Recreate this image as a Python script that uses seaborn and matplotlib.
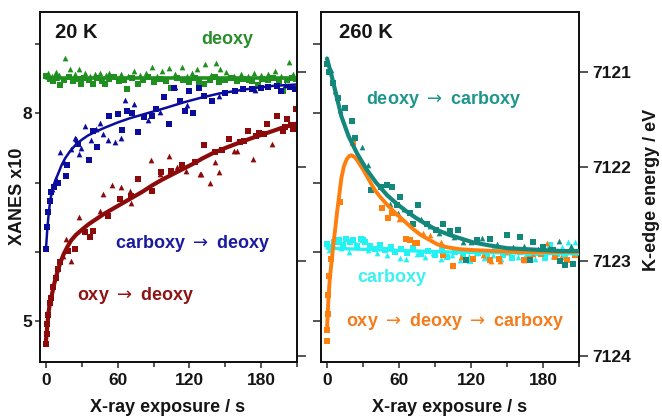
import matplotlib
matplotlib.use("Agg")
import matplotlib.pyplot as plt
import seaborn as sns

# ---- 20 K panel (XANES x10) ----
green_sq_t = [0, 3, 6, 9, 12, 15, 19, 23, 27, 29, 32, 36, 39, 43, 47, 49, 53, 57, 61, 65, 68, 72, 77, 81, 85,
              90, 95, 100, 105, 110, 115, 120, 125, 128, 132, 137, 141, 145, 150, 155, 160, 165, 170, 172, 177,
              181, 186, 190, 195, 198, 202, 206, 209]
green_sq_v = [8.55, 8.50, 8.47, 8.52, 8.41, 8.49, 8.53, 8.47, 8.50, 8.43, 8.52, 8.48, 8.43, 8.51, 8.47, 8.43, 8.50,
              8.53, 8.47, 8.49, 8.36, 8.51, 8.42, 8.48, 8.53, 8.46, 8.50, 8.47, 8.37, 8.51, 8.49, 8.46, 8.52, 8.46,
              8.43, 8.49, 8.53, 8.45, 8.48, 8.51, 8.47, 8.50, 8.48, 8.47, 8.41, 8.50, 8.48, 8.52, 8.47, 8.33, 8.49,
              8.52, 8.50]
green_tri_t = [2, 5, 8, 11, 16, 20, 24, 28, 33, 37, 41, 45, 50, 53, 58, 63, 69, 74, 79, 84, 89, 93, 97, 103, 108,
               114, 118, 122, 126, 133, 138, 142, 146, 151, 157, 163, 169, 174, 180, 186, 192, 197, 203, 207]
green_tri_v = [8.58, 8.54, 8.60, 8.56, 8.80, 8.65, 8.57, 8.65, 8.59, 8.55, 8.57, 8.59, 8.56, 8.59, 8.54, 8.57, 8.55,
               8.61, 8.56, 8.58, 8.67, 8.55, 8.62, 8.66, 8.57, 8.67, 8.55, 8.58, 8.65, 8.71, 8.56, 8.73, 8.64, 8.60,
               8.55, 8.57, 8.54, 8.59, 8.56, 8.57, 8.62, 8.55, 8.74, 8.57]
green_fit_t = [0, 210]
green_fit_v = [8.52, 8.52]

blue_sq_t = [0, 1, 2, 3, 4.5, 7, 10, 17, 18, 27, 36, 39, 43, 53, 60, 64, 68, 72, 77, 82, 89, 92, 99, 103, 107,
             112, 116, 120, 123, 128, 132, 139, 150, 158, 165, 172, 180, 186, 193, 197, 204, 208]
blue_sq_v = [6.04, 6.35, 6.58, 6.73, 6.86, 6.93, 7.00, 7.09, 7.26, 7.56, 7.33, 7.75, 7.51, 7.97, 7.99, 7.76, 8.03,
             8.00, 7.73, 7.95, 7.97, 8.07, 8.24, 7.85, 8.37, 8.18, 8.03, 8.32, 8.00, 8.37, 8.25, 8.18, 8.30, 8.33,
             8.35, 8.36, 8.37, 8.39, 8.40, 8.33, 8.38, 8.36]
blue_tri_t = [5, 8, 12, 15, 21, 24, 25, 28, 29, 33, 38, 42, 45, 48, 52, 58, 63, 66, 74, 85, 95, 108, 118, 145,
              175, 200]
blue_tri_v = [6.90, 7.05, 7.44, 7.30, 7.48, 7.64, 7.63, 7.42, 7.50, 7.82, 7.62, 7.78, 7.86, 7.70, 7.61, 7.58, 7.65,
              8.20, 8.14, 7.90, 8.02, 8.38, 8.12, 8.26, 8.34, 8.41]
blue_fit_t = [0, 1, 2, 3, 4, 6, 8, 10, 13, 16, 20, 25, 30, 35, 42, 50, 60, 70, 80, 90, 100, 115, 130, 145, 160,
              175, 190, 210]
blue_fit_v = [6.04, 6.30, 6.50, 6.66, 6.78, 6.94, 7.04, 7.12, 7.25, 7.35, 7.45, 7.55, 7.62, 7.68, 7.74, 7.80, 7.87,
              7.93, 7.98, 8.03, 8.08, 8.16, 8.23, 8.29, 8.33, 8.37, 8.40, 8.42]

red_sq_t = [0, 0.5, 1, 2, 3, 4, 6, 8, 10, 12, 18.5, 24, 32.5, 37, 39, 52, 62, 71, 77, 89, 96, 105, 114, 125, 132,
            141, 147, 153, 162, 166, 169, 176, 178, 182, 185, 193, 198, 200, 202, 205, 207, 209]
red_sq_v = [4.66, 4.80, 4.95, 5.08, 5.25, 5.33, 5.48, 5.62, 5.75, 5.85, 6.01, 6.04, 6.28, 6.21, 6.30, 6.52, 6.76,
            6.81, 7.05, 6.88, 7.15, 7.17, 7.25, 7.29, 7.54, 7.44, 7.47, 7.63, 7.58, 7.60, 7.75, 7.67, 7.71, 7.70,
            7.85, 7.97, 7.75, 7.80, 7.92, 7.83, 7.78, 8.07]
red_tri_t = [14, 16.7, 21, 28, 45, 48, 55.5, 63, 70, 71, 88, 95, 103, 110, 117, 129, 130, 137, 141, 145, 157.5,
             160, 173, 189]
red_tri_v = [5.94, 6.18, 5.87, 6.50, 6.59, 6.84, 6.96, 6.93, 6.88, 6.71, 7.32, 7.13, 7.39, 7.22, 7.17, 7.12, 7.13,
             7.00, 7.29, 7.15, 7.46, 7.46, 7.34, 7.56]
red_fit_t = [0, 1, 2, 3, 5, 7, 9, 12, 15, 18, 21, 25, 31, 36, 42, 49, 56, 64, 73, 81, 89, 97, 106, 115, 123, 131,
             139, 150, 159, 170, 180, 187, 197, 209]
red_fit_v = [4.71, 4.90, 5.10, 5.22, 5.38, 5.54, 5.67, 5.84, 5.97, 6.07, 6.16, 6.24, 6.33, 6.40, 6.47, 6.55, 6.62,
             6.70, 6.79, 6.87, 6.96, 7.04, 7.12, 7.20, 7.27, 7.35, 7.42, 7.50, 7.56, 7.63, 7.69, 7.73, 7.79, 7.85]

# ---- 260 K panel (K-edge energy / eV) ----
teal_sq_t = [0, 2, 5, 9, 15, 20.5, 23, 37, 45, 50, 54, 58, 61, 69, 72, 76, 83, 91, 97, 102.5, 109, 116, 125, 136,
             150, 161, 169, 172, 180, 188, 194, 198, 205]
teal_sq_v = [7120.92, 7121.00, 7121.12, 7121.28, 7121.38, 7121.52, 7121.70, 7122.25, 7122.21, 7122.19, 7122.21,
             7122.40, 7122.32, 7122.49, 7122.61, 7122.40, 7122.60, 7122.67, 7122.61, 7122.68, 7122.67, 7122.98,
             7122.77, 7122.76, 7122.72, 7122.74, 7122.98, 7122.79, 7122.85, 7122.88, 7123.00, 7123.04, 7123.03]
teal_tri_t = [3, 7, 11, 29, 34, 52.5, 59, 64, 78, 86, 93, 106, 113, 120, 129, 142, 155, 164, 176, 185, 193, 203]
teal_tri_v = [7120.98, 7121.20, 7121.40, 7121.79, 7121.98, 7122.39, 7122.49, 7122.45, 7122.55, 7122.63, 7122.70,
              7122.74, 7122.79, 7122.80, 7122.75, 7122.82, 7122.85, 7122.84, 7122.87, 7122.86, 7122.78, 7122.84]
teal_fit_t = [0, 4, 8, 12, 18, 25, 33, 41, 50, 58, 66, 74, 83, 92, 102, 112, 122, 135, 150, 165, 180, 195, 210]
teal_fit_v = [7120.86, 7121.05, 7121.26, 7121.47, 7121.68, 7121.86, 7122.03, 7122.17, 7122.30, 7122.39, 7122.47,
              7122.54, 7122.61, 7122.67, 7122.72, 7122.76, 7122.80, 7122.83, 7122.86, 7122.87, 7122.88, 7122.89,
              7122.89]

orange_sq_t = [0, 0, 0.5, 1, 2, 3, 11, 22, 45.5, 51, 54, 66, 69, 73, 75, 97, 105, 122, 136, 143, 164, 169, 178,
               190, 200, 207]
orange_sq_v = [7123.72, 7123.84, 7123.55, 7123.35, 7123.15, 7122.97, 7122.37, 7121.75, 7122.44, 7122.54, 7122.49,
               7122.76, 7122.77, 7122.81, 7122.81, 7122.93, 7123.05, 7122.97, 7122.98, 7122.97, 7122.98, 7122.97,
               7122.92, 7122.95, 7122.98, 7122.93]
orange_tri_t = [60, 80, 86, 95, 112, 130, 137, 144, 150, 164, 172, 183, 195]
orange_tri_v = [7122.55, 7122.70, 7122.72, 7122.80, 7122.95, 7122.93, 7123.00, 7123.00, 7122.90, 7122.98, 7122.92,
                7122.81, 7122.95]
orange_fit_t = [0, 0.5, 1, 2, 3, 4, 5.5, 7, 8.5, 10, 12, 14, 16.5, 18.5, 20.5, 23, 25, 28, 31, 35, 40, 45, 50, 57,
                64, 71, 78, 85, 92, 100, 110, 122, 140, 160, 185, 210]
orange_fit_v = [7123.72, 7123.58, 7123.44, 7123.24, 7123.10, 7122.98, 7122.80, 7122.64, 7122.47, 7122.32, 7122.12,
                7122.00, 7121.92, 7121.89, 7121.88, 7121.90, 7121.93, 7121.99, 7122.05, 7122.14, 7122.25, 7122.33,
                7122.40, 7122.49, 7122.57, 7122.65, 7122.72, 7122.77, 7122.82, 7122.85, 7122.87, 7122.88, 7122.89,
                7122.90, 7122.90, 7122.90]

cyan_sq_t = [0, 3, 6, 8, 10, 13, 16, 19, 22, 25, 28, 30, 32, 36, 40, 44, 48, 53, 57, 62, 67, 72, 78, 84, 90, 96,
             100, 107, 113, 119, 126, 133, 140, 147, 154, 161, 168, 175, 182, 186, 192, 198, 204, 209]
cyan_sq_v = [7122.82, 7122.85, 7122.80, 7122.79, 7122.77, 7122.83, 7122.76, 7122.80, 7122.77, 7122.84, 7122.76,
             7122.77, 7122.79, 7122.84, 7122.87, 7122.83, 7122.88, 7122.85, 7122.90, 7122.87, 7122.91, 7122.86,
             7122.92, 7122.89, 7122.93, 7122.88, 7122.95, 7122.90, 7122.94, 7122.99, 7122.91, 7122.95, 7122.89,
             7122.93, 7122.96, 7122.90, 7122.94, 7122.91, 7122.96, 7122.83, 7122.92, 7122.95, 7122.90, 7122.93]
cyan_tri_t = [2, 5, 12, 18, 24, 34, 42, 50, 56, 61, 66, 75, 82, 88, 95, 104, 111, 118, 124, 131, 138, 145, 152,
              159, 166, 173, 180, 188, 196, 201, 207]
cyan_tri_v = [7122.88, 7122.83, 7122.86, 7122.90, 7122.82, 7122.88, 7122.91, 7122.93, 7122.89, 7122.96, 7122.97,
              7122.92, 7122.95, 7122.91, 7122.97, 7122.93, 7122.98, 7122.94, 7122.91, 7122.96, 7122.93, 7122.97,
              7122.90, 7122.95, 7122.92, 7122.97, 7122.89, 7122.94, 7122.85, 7122.79, 7122.79]
cyan_fit_t = [0, 100, 210]
cyan_fit_v = [7122.86, 7122.90, 7122.92]

# ---- axes ticks ----
x_major = [0, 60, 120, 180]
x_minor = [30, 90, 150, 210]
xanes_ticks = [5, 6, 7, 8, 9]
xanes_labels = ['5', '', '', '8', '']
energy_ticks = [7121, 7122, 7123, 7124]
energy_labels = ['7121', '7122', '7123', '7124']

TXT = '#151515'
ARROW = r'$\rightarrow$'


def draw_series(ax, sq_t, sq_v, tri_t, tri_v, fit_t, fit_v, color, lw, sq_size=13, tri_size=17):
    sns.scatterplot(x=sq_t, y=sq_v, marker='s', s=sq_size, color=color, linewidth=0, ax=ax, zorder=2)
    sns.scatterplot(x=tri_t, y=tri_v, marker='^', s=tri_size, color=color, linewidth=0, ax=ax, zorder=2)
    sns.lineplot(x=fit_t, y=fit_v, color=color, lw=lw, estimator=None, ax=ax, zorder=3)


def style_axes(ax, ax2, show_left, show_right, left_len):
    ax.set_xlim(-5, 210)
    ax.set_ylim(4.40, 9.47)
    ax2.set_ylim(7124.06, 7120.37)
    ax.set_xticks(x_major)
    ax.set_xticks(x_minor, minor=True)
    ax.set_xticklabels([str(v) for v in x_major])
    ax.set_yticks(xanes_ticks)
    ax.set_yticklabels(xanes_labels if show_left else [''] * len(xanes_ticks))
    ax2.set_yticks(energy_ticks)
    ax2.set_yticklabels(energy_labels if show_right else [''] * len(energy_ticks))
    ax.tick_params(axis='x', which='major', direction='out', length=4, width=1.1, pad=4,
                   labelsize=12.5, labelcolor=TXT)
    ax.tick_params(axis='x', which='minor', direction='out', length=3.5, width=1.1)
    ax.tick_params(axis='y', direction='out', length=left_len, width=1.1, pad=2,
                   labelsize=12.5, labelcolor=TXT)
    ax2.tick_params(axis='y', direction='out', length=6.5, width=1.1, pad=3,
                    labelsize=12.5, labelcolor=TXT)
    for lab in ax.get_xticklabels() + ax.get_yticklabels() + ax2.get_yticklabels():
        lab.set_fontweight('bold')
    for a in (ax, ax2):
        a.set_xlabel('')
        a.set_ylabel('')
        for sp in a.spines.values():
            sp.set_visible(True)
            sp.set_linewidth(1.3)
            sp.set_color('#111111')


sns.set_style('ticks')
plt.rcParams['font.family'] = ['Liberation Sans', 'DejaVu Sans']
plt.rcParams['mathtext.fontset'] = 'dejavusans'

W, H = 662, 418
fig = plt.figure(figsize=(W / 100, H / 100), dpi=100)

ax_l = fig.add_axes([40 / W, 1 - 362 / H, 257 / W, 350 / H])
ax_l2 = ax_l.twinx()
ax_r = fig.add_axes([321 / W, 1 - 362 / H, 258 / W, 350 / H])
ax_r2 = ax_r.twinx()

# 20 K
draw_series(ax_l, green_sq_t, green_sq_v, green_tri_t, green_tri_v, green_fit_t, green_fit_v, '#1f8f1f', 2.6)
draw_series(ax_l, blue_sq_t, blue_sq_v, blue_tri_t, blue_tri_v, blue_fit_t, blue_fit_v, '#0c0c9c', 1.8)
draw_series(ax_l, red_sq_t, red_sq_v, red_tri_t, red_tri_v, red_fit_t, red_fit_v, '#8c0a0a', 3.0)

# 260 K
draw_series(ax_r2, cyan_sq_t, cyan_sq_v, cyan_tri_t, cyan_tri_v, cyan_fit_t, cyan_fit_v, '#22f2f2', 2.4)
draw_series(ax_r2, orange_sq_t, orange_sq_v, orange_tri_t, orange_tri_v, orange_fit_t, orange_fit_v,
            '#ff7f0e', 2.8)
draw_series(ax_r2, teal_sq_t, teal_sq_v, teal_tri_t, teal_tri_v, teal_fit_t, teal_fit_v, '#14877c', 3.0)

style_axes(ax_l, ax_l2, True, False, 3.6)
style_axes(ax_r, ax_r2, False, True, 5.5)


def ftext(x, y, s, color=TXT, size=13, ha='left', rot=0):
    fig.text(x / W, 1 - y / H, s, color=color, fontsize=size, fontweight='bold',
             ha=ha, va='center', rotation=rot)


ftext(55, 33, '20 K', size=14.5)
ftext(227, 39, 'deoxy', color='#2a8c2a', ha='center')
ftext(115, 243, 'carboxy ' + ARROW + ' deoxy', color='#1a1a9e')
ftext(77, 295, 'oxy ' + ARROW + ' deoxy', color='#8e1414')
ftext(339, 33, '260 K', size=14.5)
ftext(366, 100, 'deoxy ' + ARROW + ' carboxy', color='#1f968c')
ftext(357, 277, 'carboxy', color='#3cf0f0')
ftext(346, 321, 'oxy ' + ARROW + ' deoxy ' + ARROW + ' carboxy', color='#f47c1c')

ftext(168, 407, 'X-ray exposure / s', ha='center')
ftext(450, 407, 'X-ray exposure / s', ha='center')
ftext(18, 196, 'XANES x10', ha='center', rot=90)
ftext(651, 190, 'K-edge energy / eV', ha='center', rot=90)

fig.savefig('out.png', dpi=100)
